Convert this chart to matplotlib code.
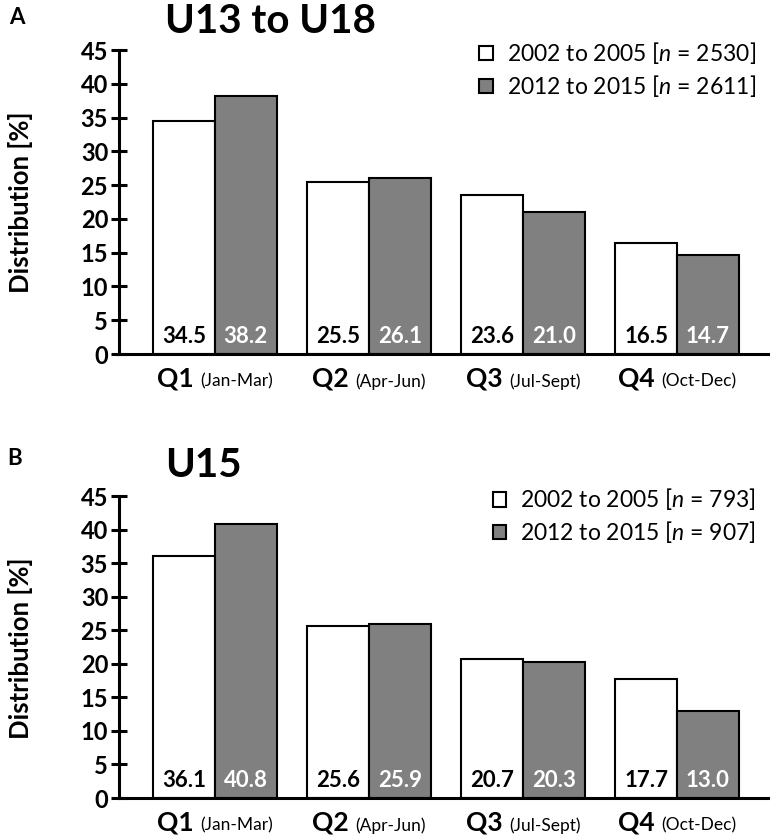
import numpy as np
import matplotlib
matplotlib.use("Agg")
import matplotlib.pyplot as plt
from matplotlib.patches import Patch
from matplotlib.offsetbox import TextArea, HPacker, AnnotationBbox

plt.rcParams['font.family'] = ['Lato', 'DejaVu Sans']
plt.rcParams['mathtext.fontset'] = 'custom'
plt.rcParams['mathtext.rm'] = 'Lato'
plt.rcParams['mathtext.it'] = 'Lato:italic'

quarters = ['Q1', 'Q2', 'Q3', 'Q4']
months = ['(Jan-Mar)', '(Apr-Jun)', '(Jul-Sept)', '(Oct-Dec)']

# panel A: U13 to U18
a_2002 = [34.5, 25.5, 23.6, 16.5]
a_2012 = [38.2, 26.1, 21.0, 14.7]
a_labels = ['2002 to 2005 [$n$ = 2530]', '2012 to 2015 [$n$ = 2611]']

# panel B: U15
b_2002 = [36.1, 25.6, 20.7, 17.7]
b_2012 = [40.8, 25.9, 20.3, 13.0]
b_labels = ['2002 to 2005 [$n$ = 793]', '2012 to 2015 [$n$ = 907]']

W, H = 771, 838
fig = plt.figure(figsize=(W / 100, H / 100), dpi=100)


def px_axes(left, right, top, bottom):
    return fig.add_axes([left / W, 1 - bottom / H, (right - left) / W, (bottom - top) / H])


def panel(ax, old, new, labels, title, top_px, title_gap):
    x = np.arange(len(quarters))
    bw = 0.4
    ax.bar(x - bw / 2, old, bw, color='white', edgecolor='black', linewidth=1.5, zorder=2)
    ax.bar(x + bw / 2, new, bw, color='#808080', edgecolor='black', linewidth=1.5, zorder=2)
    for xi, v in zip(x, old):
        ax.text(xi - bw / 2, 1.0, f"{v:.1f}", ha='center', va='bottom',
                fontsize=16, fontweight='bold', color='black', zorder=3)
    for xi, v in zip(x, new):
        ax.text(xi + bw / 2, 1.0, f"{v:.1f}", ha='center', va='bottom',
                fontsize=16, fontweight='bold', color='white', zorder=3)

    ax.set_ylim(0, 45)
    ax.set_xlim(-0.623, 3.59)
    ax.set_yticks(np.arange(0, 46, 5))
    ax.set_xticks([])
    for s in ['top', 'right']:
        ax.spines[s].set_visible(False)
    for s in ['left', 'bottom']:
        ax.spines[s].set_linewidth(2.2)
    ax.tick_params(axis='y', direction='inout', length=11.5, width=2.2,
                   labelsize=17, pad=2)
    for t in ax.get_yticklabels():
        t.set_fontweight('bold')

    for xi, q, m in zip(x, quarters, months):
        box = HPacker(children=[
            TextArea(q, textprops=dict(fontsize=19, fontweight='bold')),
            TextArea(m, textprops=dict(fontsize=12.5))],
            align='baseline', pad=0, sep=5)
        ab = AnnotationBbox(box, (xi, 0), xycoords='data', xybox=(0, -9),
                            boxcoords='offset points', box_alignment=(0.5, 1),
                            frameon=False, pad=0)
        ax.add_artist(ab)

    handles = [Patch(facecolor='white', edgecolor='black', linewidth=1.5),
               Patch(facecolor='#808080', edgecolor='black', linewidth=1.5)]
    ax.legend(handles, labels, loc='upper right', bbox_to_anchor=(1.013, 1.1),
              frameon=False, fontsize=16.5, handlelength=0.6, handleheight=0.6,
              handletextpad=0.6, labelspacing=0.3)

    # title baseline sits a fixed number of pixels above the axes top
    ax.text((165 - 119) / (768 - 119), 1 + title_gap / (ax.bbox.height), title,
            transform=ax.transAxes, ha='left', va='baseline',
            fontsize=29, fontweight='bold')
    fig.text(21 / W, 1 - (top_px + 152) / H, 'Distribution [%]', rotation=90,
             ha='center', va='center', fontsize=18.5, fontweight='bold')


ax_a = px_axes(119, 768, 50, 354)
panel(ax_a, a_2002, a_2012, a_labels, 'U13 to U18', 50, 17)
fig.text(17 / W, 1 - 17 / H, 'A', ha='center', va='center', fontsize=16, fontweight='bold')

ax_b = px_axes(119, 768, 496, 798)
panel(ax_b, b_2002, b_2012, b_labels, 'U15', 496, 19)
fig.text(15 / W, 1 - 458 / H, 'B', ha='center', va='center', fontsize=16, fontweight='bold')

fig.savefig('out.png', dpi=100)
